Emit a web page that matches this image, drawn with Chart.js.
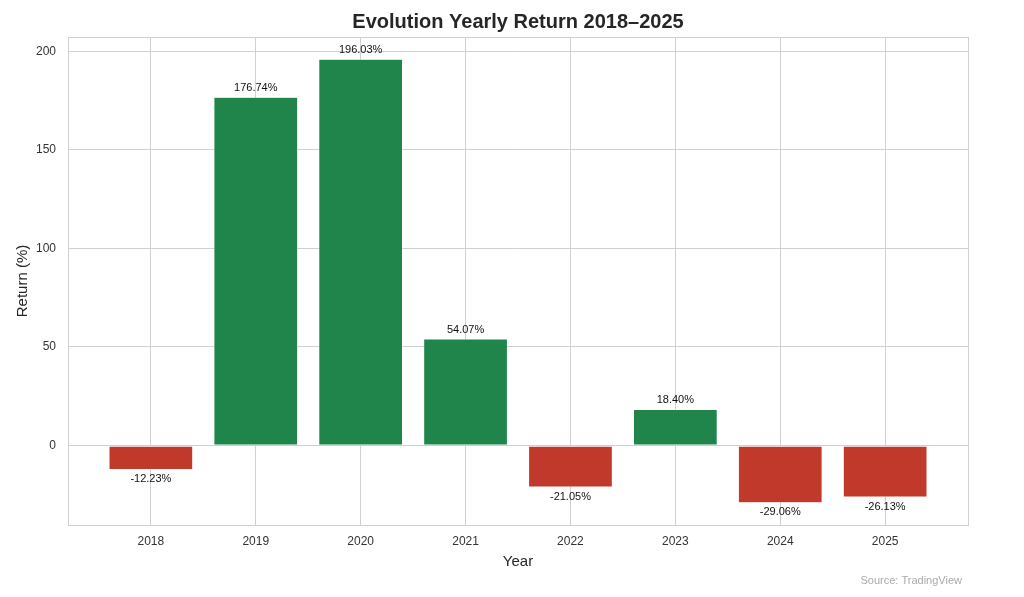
<!DOCTYPE html>
<html>
<head>
<meta charset="utf-8">
<script src="https://cdn.jsdelivr.net/npm/chart.js@4"></script>
<style>
  html, body { margin: 0; padding: 0; background: #fff; }
  #wrap { width: 1024px; height: 597px; }
</style>
</head>
<body>
<div id="wrap"><canvas id="barChart" width="1024" height="597"></canvas></div>
<script>
// data
const years = ['2018', '2019', '2020', '2021', '2022', '2023', '2024', '2025'];
const returns = [-12.23, 176.74, 196.03, 54.07, -21.05, 18.40, -29.06, -26.13];
const yTicks = [0, 50, 100, 150, 200];

const GREEN = '#1f854b';
const RED = '#c0392b';
const FONT = '"Liberation Sans", Arial, sans-serif';

// plot frame (all four sides)
const framePlugin = {
    id: 'frame',
    beforeDatasetsDraw(chart) {
        const { ctx, chartArea: a } = chart;
        ctx.save();
        ctx.strokeStyle = '#d0d0d0';
        ctx.lineWidth = 1;
        ctx.strokeRect(Math.round(a.left) + 0.5, Math.round(a.top) + 0.5,
            Math.round(a.right - a.left), Math.round(a.bottom - a.top));
        ctx.restore();
    }
};

// labels, titles and source line
const textPlugin = {
    id: 'texts',
    afterDatasetsDraw(chart) {
        const ctx = chart.ctx;
        const meta = chart.getDatasetMeta(0);
        ctx.save();
        ctx.fillStyle = '#111';
        ctx.font = '11px ' + FONT;
        ctx.textAlign = 'center';
        meta.data.forEach((bar, i) => {
            const v = returns[i];
            const txt = v.toFixed(2) + '%';
            if (v >= 0) {
                ctx.textBaseline = 'bottom';
                ctx.fillText(txt, bar.x, bar.y - 4);
            } else {
                ctx.textBaseline = 'top';
                ctx.fillText(txt, bar.x, bar.y + 4);
            }
        });
        const area = chart.chartArea;
        // main title
        ctx.fillStyle = '#262626';
        ctx.font = 'bold 20px ' + FONT;
        ctx.textBaseline = 'alphabetic';
        ctx.fillText('Evolution Yearly Return 2018\u20132025', (area.left + area.right) / 2, 28);
        // axis titles
        ctx.font = '15px ' + FONT;
        ctx.fillText('Year', (area.left + area.right) / 2, 566);
        ctx.save();
        ctx.translate(27, (area.top + area.bottom) / 2);
        ctx.rotate(-Math.PI / 2);
        ctx.fillText('Return (%)', 0, 0);
        ctx.restore();
        // source
        ctx.fillStyle = '#aaaaaa';
        ctx.font = '11px ' + FONT;
        ctx.textAlign = 'right';
        ctx.fillText('Source: TradingView', 962, 584);
        ctx.restore();
    }
};

const ctxBar = document.getElementById('barChart').getContext('2d');
new Chart(ctxBar, {
    type: 'bar',
    data: {
        datasets: [{
            data: returns.map((v, i) => ({ x: i, y: v })),
            backgroundColor: returns.map(v => v >= 0 ? GREEN : RED),
            borderColor: '#ffffff',
            borderWidth: 0.6,
            borderSkipped: false,
            barPercentage: 0.8,
            categoryPercentage: 1.0
        }]
    },
    options: {
        responsive: false,
        animation: false,
        layout: { padding: { top: 37, right: 56, left: 0, bottom: 0 } },
        plugins: { legend: { display: false }, tooltip: { enabled: false } },
        scales: {
            x: {
                type: 'linear',
                offset: false,
                min: -0.79,
                max: 7.79,
                afterBuildTicks: (axis) => { axis.ticks = years.map((_, i) => ({ value: i })); },
                afterFit: (axis) => { axis.height = 72; },
                ticks: {
                    callback: (value) => years[value] ?? '',
                    color: '#333',
                    font: { size: 12, family: FONT },
                    padding: 9,
                    maxRotation: 0,
                    autoSkip: false
                },
                grid: { color: '#d0d0d0', lineWidth: 1, drawTicks: false, offset: false },
                border: { color: '#d0d0d0', width: 1 }
            },
            y: {
                min: -40.31,
                max: 207.28,
                afterBuildTicks: (axis) => { axis.ticks = yTicks.map(v => ({ value: v })); },
                afterFit: (axis) => { axis.width = 68; },
                ticks: {
                    color: '#333',
                    font: { size: 12, family: FONT },
                    padding: 12
                },
                grid: { color: '#d0d0d0', lineWidth: 1, drawTicks: false },
                border: { color: '#d0d0d0', width: 1 }
            }
        }
    },
    plugins: [framePlugin, textPlugin]
});
</script>
</body>
</html>
